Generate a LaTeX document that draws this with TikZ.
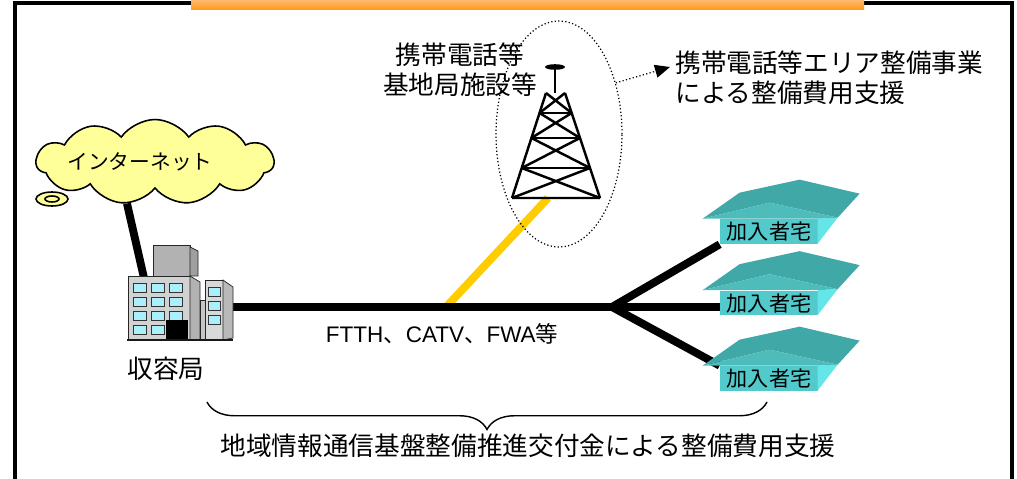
\documentclass[tikz,border=0pt]{standalone}
\usepackage{fontspec}
\setmainfont{Noto Sans CJK JP}
\newfontfamily\arial{Liberation Sans}
\usetikzlibrary{shapes.symbols,shapes.geometric,decorations.pathreplacing,arrows.meta}

\definecolor{cloudyellow}{RGB}{255,255,153}
\definecolor{roofteal}{RGB}{64,168,166}
\definecolor{roofpale}{RGB}{78,188,186}
\definecolor{wallcyan}{RGB}{82,202,204}
\definecolor{sidecyan}{RGB}{100,230,232}
\definecolor{fiberyellow}{RGB}{255,204,0}
\definecolor{barorange}{RGB}{255,152,20}
\definecolor{winblue}{RGB}{170,240,250}

\begin{document}
\begin{tikzpicture}[x=0.02cm, y=-0.02cm,
  cable/.style={line width=4.5pt},
  lbl/.style={inner sep=0pt, font=\fontsize{14.6}{17}\selectfont},
  small/.style={inner sep=0pt, font=\fontsize{11.8}{14}\selectfont},
  wall/.style={fill=wallcyan, minimum width=1.96cm, minimum height=0.5cm,
               inner sep=0pt, font=\fontsize{12}{14}\selectfont},
  tower/.style={line width=1.4pt},
  pics/roof/.style={code={
    \fill[sidecyan] (98,0) -- (118,-1) -- (98,25) -- cycle;
    \fill[roofteal] (-17,0) -- (20,-26) -- (80,-39) -- (140,-25) -- (118,-1) -- (50,-16) -- cycle;
    \fill[roofpale] (-17,0) -- (50,-16) -- (118,-1) -- (98,0) -- cycle;
  }}]
  \useasboundingbox (0,0) rectangle (1017,479);

  % frame and title bar
  \draw[line width=2.3pt] (15,490) -- (15,3) -- (1012,3) -- (1012,490);
  \shade[top color=orange!55, bottom color=barorange] (191,0) rectangle (864,10);

  % internet cloud
  \node[cloud, draw, fill=cloudyellow, line width=0.9pt, cloud puffs=11, cloud puff arc=110,
        minimum width=4.75cm, minimum height=1.7cm, inner sep=0pt] (cloud) at (155,162) {};
  \draw[fill=cloudyellow, line width=0.9pt] (52,199) ellipse (16 and 7);
  \draw[line width=0.9pt] (52,199) ellipse (7 and 3);
  \node[small] (net) at (140,162) {インターネット};

  \node[minimum width=2.1cm, minimum height=1.9cm, inner sep=0pt] (office) at (180,292) {};
  \node[lbl] (officelbl) at (166,369) {収容局};

  % houses
  \node[wall] (h1) at (769,231.5) {加入者宅};
  \node[wall] (h2) at (769,303) {加入者宅};
  \node[wall] (h3) at (769,378.5) {加入者宅};

  \coordinate (uplink) at (144,278);
  \coordinate (tap) at (447,306);
  \coordinate (mast) at (548,198);
  \coordinate (junc) at (612,307);

  % lines
  \draw[cable] (cloud.236) -- (uplink);
  \draw[cable, fiberyellow] (tap) -- (mast);
  \draw[cable] (office.east |- junc) -- (h2.west |- junc);
  \draw[cable, line join=miter] (h1.south west) -- (junc) -- (h3.north west);

  % station building
  \draw[gray!30!black, line width=0.4pt, fill=gray!60] (153,245) rectangle (190,276);
  \draw[gray!30!black, line width=0.4pt, fill=gray!75] (190,247) -- (198,251) -- (198,276) -- (190,276) -- cycle;
  \draw[gray!30!black, line width=0.4pt, fill=gray!35] (128,276) rectangle (190,340);
  \draw[gray!30!black, line width=0.4pt, fill=gray!60] (190,276) -- (200,282) -- (200,340) -- (190,340) -- cycle;
  \draw[gray!30!black, line width=0.4pt, fill=gray!45] (200,300) rectangle (205,340);
  \draw[gray!30!black, line width=0.4pt, fill=gray!30] (205,280) rectangle (223,340);
  \draw[gray!30!black, line width=0.4pt, fill=gray!55] (223,280) -- (233,287) -- (233,338) -- (223,340) -- cycle;
  \foreach \wx in {133,151,169}
    \foreach \wy in {283,297,311}
      \draw[gray!40!black, line width=0.3pt, fill=winblue] (\wx,\wy) rectangle ++(13,9);
  \foreach \wx in {133,151}
    \draw[gray!40!black, line width=0.3pt, fill=winblue] (\wx,325) rectangle ++(13,9);
  \foreach \wy in {287,301,315}
    \draw[gray!40!black, line width=0.3pt, fill=winblue] (208,\wy) rectangle ++(12,9);
  \fill (166,320) rectangle (188,340);
  \draw[line width=1.2pt, gray!20!black] (127,340) -- (233,340);

  % house roofs
  \pic at (h1.north west) {roof};
  \pic at (h2.north west) {roof};
  \pic at (h3.north west) {roof};

  % base station tower
  \draw[tower] (546,93) -- (512,198) (565,93) -- (600,198) (512,198) -- (600,198);
  \foreach \ya/\yb in {93/113,113/138,138/168,168/198}{
    \draw[tower] ({546-(\ya-93)*0.3238},\ya) -- ({565+(\yb-93)*0.3333},\yb)
                 ({565+(\ya-93)*0.3333},\ya) -- ({546-(\yb-93)*0.3238},\yb);
    \draw[tower] ({546-(\yb-93)*0.3238},\yb) -- ({565+(\yb-93)*0.3333},\yb);
  }
  \draw[tower] (555,93) -- (555,68);
  \fill (555,67) ellipse (10 and 2.8);

  \node[ellipse, draw, line width=0.7pt, dash pattern=on 0.7pt off 1.3pt,
        minimum width=2.52cm, minimum height=4.52cm, inner sep=0pt] (zone) at (559,134) {};
  \node[lbl, align=center] (site) at (460,70) {携帯電話等\\基地局施設等};
  \node[lbl, align=left, anchor=west] (area) at (675,78) {携帯電話等エリア整備事業\\による整備費用支援};
  \draw[line width=0.7pt, dash pattern=on 0.7pt off 1.3pt, -{Triangle[length=3mm,width=2.6mm]}]
    (zone.42) -- ([xshift=-0.1cm, yshift=0.22cm]area.west);

  \node[inner sep=0pt, font=\fontsize{12.8}{14}\selectfont] (media) at (442,334)
    {{\arial FTTH}、{\arial CATV}、{\arial FWA}等};

  % subsidy brace
  \coordinate (bl) at (207,402);
  \coordinate (br) at (767,402);
  \draw[decorate, decoration={brace, amplitude=0.55cm}, line width=0.8pt] (br) -- (bl);
  \node[lbl] (fund) at (528,446) {地域情報通信基盤整備推進交付金による整備費用支援};
\end{tikzpicture}
\end{document}
